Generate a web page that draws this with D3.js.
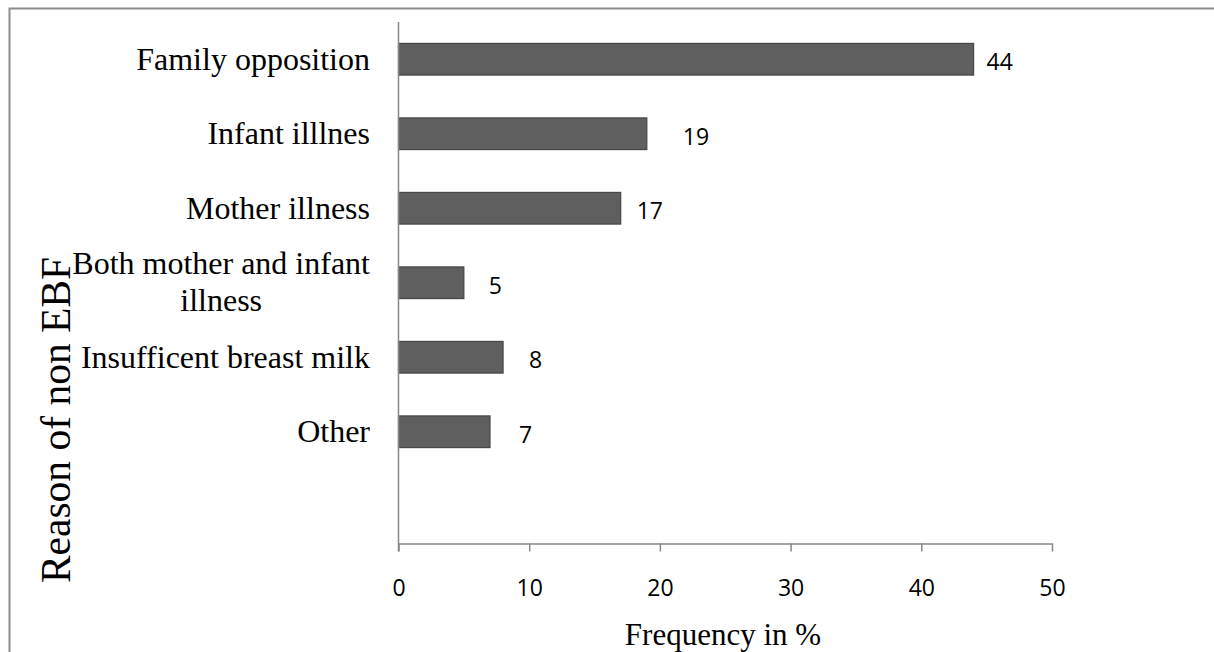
<!DOCTYPE html>
<html>
<head>
<meta charset="utf-8">
<script src="https://cdn.jsdelivr.net/npm/d3@7/dist/d3.min.js"></script>
<style>
  html, body { margin: 0; padding: 0; background: #fff; }
  svg { display: block; }
</style>
</head>
<body>
<script>
// Reasons for not exclusively breastfeeding (percent of respondents)
const categories = [
  "Family opposition",
  "Infant illlnes",
  "Mother illness",
  "Both mother and infant illness",
  "Insufficent breast milk",
  "Other"
];
const values = [44, 19, 17, 5, 8, 7];
const xTicks = [0, 10, 20, 30, 40, 50];
// horizontal gap between each bar end and its value label
const labelGap = [13, 36, 16, 25, 26, 29];

const W = 1214, H = 652;
const serif = "'Liberation Serif', 'Times New Roman', serif";
const sans = "'Open Sans', 'Liberation Sans', sans-serif";

const svg = d3.select("body").append("svg")
  .attr("width", W).attr("height", H);

svg.append("rect").attr("width", W).attr("height", H).attr("fill", "#fff");

// chart frame (left and top edges visible)
svg.append("path")
  .attr("d", `M9.5,${H} V8.5 H${W}`)
  .attr("fill", "none")
  .attr("stroke", "#8c8c8c")
  .attr("stroke-width", 2);

const plot = { left: 398.5, right: 1052, top: 22, bottom: 543.5 };

const x = d3.scaleLinear().domain([0, 50]).range([plot.left, plot.right]);
// one empty slot below the last category
const y = d3.scaleBand()
  .domain(categories.concat([""]))
  .range([plot.top, plot.bottom])
  .paddingInner(0.575)
  .paddingOuter(0.2875);

// bars
svg.append("g").selectAll("rect")
  .data(values)
  .join("rect")
  .attr("x", x(0))
  .attr("y", (d, i) => y(categories[i]))
  .attr("width", d => x(d) - x(0))
  .attr("height", y.bandwidth())
  .attr("fill", "#5f5f5f")
  .attr("stroke", "#474747")
  .attr("stroke-width", 1.2);

// x axis
const xAxis = svg.append("g")
  .attr("transform", `translate(0,${plot.bottom})`)
  .call(d3.axisBottom(x).tickValues(xTicks).tickSize(8).tickSizeOuter(0).tickPadding(12));
xAxis.select(".domain").attr("stroke", "#878787").attr("stroke-width", 1.5);
xAxis.selectAll(".tick line").attr("stroke", "#878787").attr("stroke-width", 1.5);
xAxis.selectAll(".tick text")
  .attr("fill", "#000")
  .style("font-family", sans)
  .style("font-size", "23px")
  .attr("dy", null)
  .attr("y", 52.5);

// y axis line
svg.append("line")
  .attr("x1", plot.left).attr("x2", plot.left)
  .attr("y1", plot.top).attr("y2", plot.bottom + 8)
  .attr("stroke", "#878787").attr("stroke-width", 1.5);

// category labels, wrapped and centred when too long
const maxLabelWidth = 315;
const labelRight = 370;
const lineH = 37;
const catG = svg.append("g")
  .style("font-family", serif)
  .style("font-size", "32px")
  .attr("fill", "#000");

categories.forEach(cat => {
  const cy = y(cat) + y.bandwidth() / 2;
  const words = cat.split(" ");
  const probe = catG.append("text");
  const lines = [];
  let cur = [];
  words.forEach(w => {
    const test = cur.concat([w]).join(" ");
    probe.text(test);
    if (probe.node().getComputedTextLength() > maxLabelWidth && cur.length) {
      lines.push(cur.join(" "));
      cur = [w];
    } else {
      cur.push(w);
    }
  });
  lines.push(cur.join(" "));
  let widest = 0;
  lines.forEach(l => {
    probe.text(l);
    widest = Math.max(widest, probe.node().getComputedTextLength());
  });
  probe.remove();

  const t = catG.append("text");
  if (lines.length === 1) {
    t.attr("text-anchor", "end").attr("x", labelRight).attr("y", cy + 10.5).text(lines[0]);
  } else {
    const cx = labelRight - widest / 2;
    t.attr("text-anchor", "middle");
    lines.forEach((l, i) => {
      t.append("tspan")
        .attr("x", cx)
        .attr("y", cy + 10 + (i - (lines.length - 1) / 2) * lineH)
        .text(l);
    });
  }
});

// value labels
svg.append("g").selectAll("text")
  .data(values)
  .join("text")
  .attr("x", (d, i) => x(d) + labelGap[i])
  .attr("y", (d, i) => y(categories[i]) + y.bandwidth() / 2 + 11)
  .style("font-family", sans)
  .style("font-size", "23px")
  .attr("fill", "#000")
  .text(d => d);

// axis titles
svg.append("text")
  .attr("x", 723).attr("y", 645)
  .attr("text-anchor", "middle")
  .style("font-family", serif)
  .style("font-size", "31px")
  .attr("fill", "#000")
  .text("Frequency in %");

svg.append("text")
  .attr("transform", "translate(70,420) rotate(-90)")
  .attr("text-anchor", "middle")
  .style("font-family", serif)
  .style("font-size", "41.5px")
  .attr("fill", "#000")
  .text("Reason of non EBF");
</script>
</body>
</html>
